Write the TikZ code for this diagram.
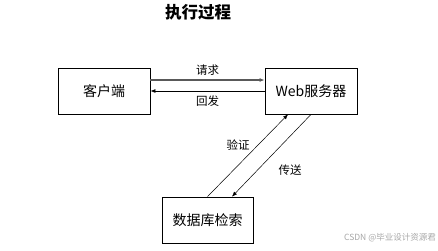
\documentclass[tikz,border=0pt]{standalone}
\usepackage{fontspec}
\usepackage{tikz}
\usetikzlibrary{arrows.meta}
\newfontfamily\cjk{Noto Sans CJK SC}

\tikzset{
  block/.style={draw,line width=.8pt,minimum width=92pt,minimum height=46pt,inner sep=0pt,font=\cjk\fontsize{14}{16}\selectfont},
  lbl/.style={font=\cjk\fontsize{11.5}{13}\selectfont,inner sep=0pt},
  flow/.style={-{Latex[length=5pt,width=4pt]},line width=.8pt},
  thin flow/.style={-{Latex[length=5pt,width=4pt]},line width=.5pt}
}

\begin{document}
\begin{tikzpicture}[x=1pt,y=-1pt]
    \useasboundingbox (0,0) rectangle (438,250);
    \node[font=\cjk\bfseries\fontsize{16.5}{18}\selectfont] (title) at (198,12) {执行过程};
    \node[block] (client) at (104,91) {客户端};
    \node[block] (web) at (311,91) {Web服务器};
    \node[block,minimum width=91pt] (db) at (207.5,220) {数据库检索};
    \draw[flow,line width=1.2pt,black!65] ([yshift=11pt]client.east) -- ([yshift=11pt]web.west) node[lbl,black,midway,above=4pt] (req) {请求};
    \draw[flow] (web.west) -- (client.east) node[lbl,midway,below=4pt] (resp) {回发};
    \draw[thin flow] (db.north) -- ([xshift=-23pt]web.south);
    \draw[thin flow] (web.south) -- ([xshift=24.5pt]db.north);
    \node[lbl] (check) at (238,145) {验证};
    \node[lbl] (send) at (290,170) {传送};
    \node[anchor=east,text=gray!70,font=\cjk\fontsize{8.5}{10}\selectfont,inner sep=0pt] (mark) at (436,238) {CSDN @毕业设计资源君};
\end{tikzpicture}
\end{document}
